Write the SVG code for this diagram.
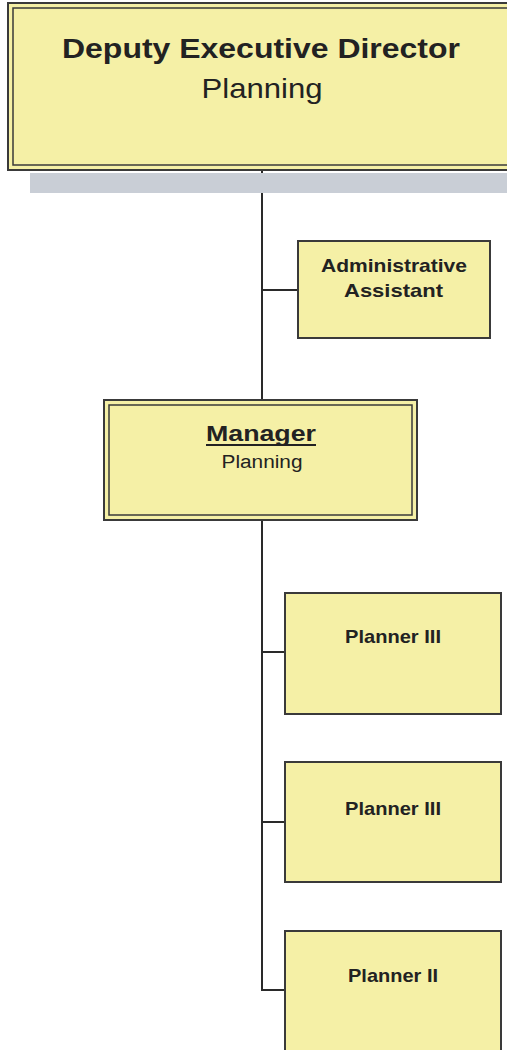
<svg xmlns="http://www.w3.org/2000/svg" width="507" height="1050" viewBox="0 0 507 1050">
<style>
.box{fill:#f5f0a6;stroke:#3a3a3a;stroke-width:2}
.inner{fill:none;stroke:#3a3a3a;stroke-width:1.5}
.line{stroke:#2a2a2a;stroke-width:2;fill:none}
text{font-family:"Liberation Sans",Arial,sans-serif;fill:#222;text-anchor:middle}
.b{font-weight:bold}
</style>
<rect width="507" height="1050" fill="#ffffff"/>
<g id="connectors">
<path class="line" d="M262 170 V400 M262 290 H298 M262 520 V990 H285 M262 652 H285 M262 822 H285"/>
</g>
<g id="deputy">
<rect x="30" y="173" width="480" height="20" fill="#c9ced6"/>
<rect class="box" x="8" y="3" width="505" height="167"/>
<rect class="inner" x="13" y="8" width="500" height="157"/>
<text class="b" x="261" y="58" font-size="28" textLength="398" lengthAdjust="spacingAndGlyphs">Deputy Executive Director</text>
<text x="262" y="98" font-size="28" textLength="121" lengthAdjust="spacingAndGlyphs">Planning</text>
</g>
<g id="admin">
<rect class="box" x="298" y="241" width="192" height="97"/>
<text class="b" x="394" y="272" font-size="19" textLength="146" lengthAdjust="spacingAndGlyphs">Administrative</text>
<text class="b" x="393.5" y="297" font-size="19" textLength="99" lengthAdjust="spacingAndGlyphs">Assistant</text>
</g>
<g id="manager">
<rect class="box" x="104" y="400" width="313" height="120"/>
<rect class="inner" x="109" y="405" width="303" height="110"/>
<text class="b" x="261" y="441" font-size="22" textLength="110" lengthAdjust="spacingAndGlyphs">Manager</text>
<line x1="206" y1="445" x2="316" y2="445" stroke="#222" stroke-width="2"/>
<text x="262" y="468" font-size="18" textLength="81" lengthAdjust="spacingAndGlyphs">Planning</text>
</g>
<g id="planner3a">
<rect class="box" x="285" y="593" width="216" height="121"/>
<text class="b" x="393" y="643" font-size="19" textLength="96" lengthAdjust="spacingAndGlyphs">Planner III</text>
</g>
<g id="planner3b">
<rect class="box" x="285" y="762" width="216" height="120"/>
<text class="b" x="393" y="815" font-size="19" textLength="96" lengthAdjust="spacingAndGlyphs">Planner III</text>
</g>
<g id="planner2">
<rect class="box" x="285" y="931" width="216" height="125"/>
<text class="b" x="393" y="982" font-size="19" textLength="90" lengthAdjust="spacingAndGlyphs">Planner II</text>
</g>
</svg>
